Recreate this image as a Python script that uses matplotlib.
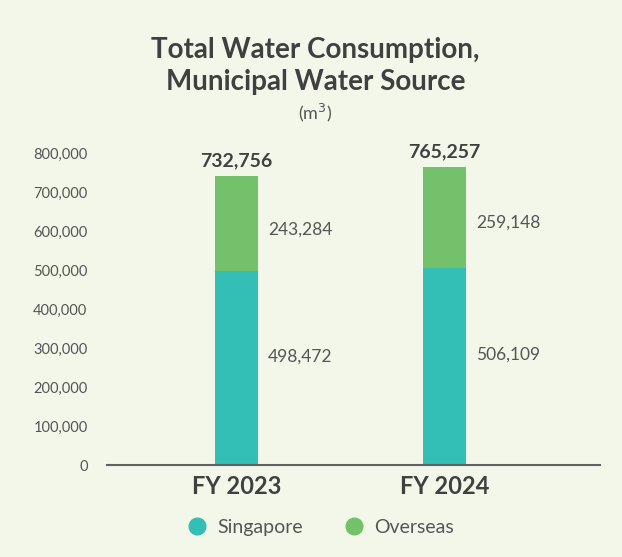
import matplotlib.pyplot as plt
from matplotlib.lines import Line2D

years = ["FY 2023", "FY 2024"]
singapore = [498472, 506109]
overseas = [243284, 259148]
totals = [732756, 765257]
yticks = [0, 100000, 200000, 300000, 400000, 500000, 600000, 700000, 800000]

bg = "#F3F7EA"
teal = "#33BFB5"
green = "#74C16B"
txt = "#404040"
light = "#555555"

plt.rcParams['font.family'] = ['Lato', 'DejaVu Sans']

fig = plt.figure(figsize=(6.22, 5.57), dpi=100, facecolor=bg)
ax = fig.add_axes([0.172, 0.165, 0.793, 0.56], facecolor=bg)

x = range(len(years))
ax.bar(x, singapore, width=0.207, color=teal)
ax.bar(x, overseas, width=0.207, bottom=singapore, color=green)

for i in x:
    top = singapore[i] + overseas[i]
    ax.text(i, top + 16000, f"{totals[i]:,}", ha='center', va='bottom',
            fontsize=14, fontweight='bold', color=txt)
    ax.text(i + 0.15, singapore[i] / 2 + 30000, f"{singapore[i]:,}", ha='left', va='center',
            fontsize=12.5, color=light)
    ax.text(i + 0.15, singapore[i] + overseas[i] / 2 - 15000, f"{overseas[i]:,}", ha='left',
            va='center', fontsize=12.5, color=light)

ax.set_xlim(-0.623, 1.748)
ax.set_ylim(0, 800000)
ax.set_yticks(yticks)
ax.set_yticklabels([f"{v:,}" for v in yticks], fontsize=10.5, color=light)
ax.set_xticks(list(x))
ax.set_xticklabels(years, fontsize=17, fontweight='bold', color=txt)
ax.tick_params(axis='y', length=0, pad=14)
ax.tick_params(axis='x', length=0, pad=7)

for s in ['top', 'right', 'left']:
    ax.spines[s].set_visible(False)
ax.spines['bottom'].set_color('#606060')
ax.spines['bottom'].set_linewidth(1.5)

fig.text(0.507, 0.91, "Total Water Consumption,", ha='center', va='center',
         fontsize=20, fontweight='bold', color=txt)
fig.text(0.507, 0.852, "Municipal Water Source", ha='center', va='center',
         fontsize=20, fontweight='bold', color=txt)
fig.text(0.507, 0.797, "(m$^3$)", ha='center', va='center',
         fontsize=13, color=light)

handles = [Line2D([], [], marker='o', linestyle='', markersize=12, color=teal),
           Line2D([], [], marker='o', linestyle='', markersize=12, color=green)]
fig.legend(handles, ["Singapore", "Overseas"], loc='center', bbox_to_anchor=(0.508, 0.053),
           ncol=2, frameon=False, handletextpad=0.05, columnspacing=1.6,
           labelcolor=light, prop={'size': 14})

fig.savefig("out.png", dpi=100, facecolor=bg)
